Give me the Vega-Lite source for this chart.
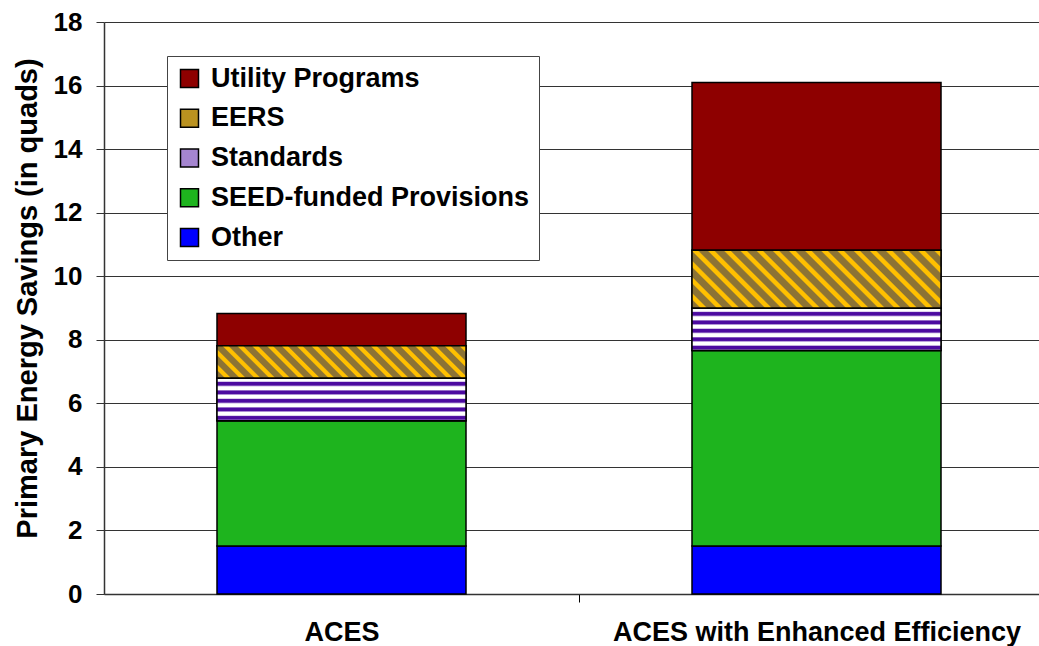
{
  "$schema": "https://vega.github.io/schema/vega-lite/v6.json",
  "width": 935,
  "height": 572,
  "autosize": {"type": "none"},
  "padding": {"left": 104, "top": 22, "right": 0, "bottom": 52},
  "background": "white",
  "config": {
    "font": "Liberation Sans",
    "view": {"stroke": null},
    "style": {"guide-label": {"fontWeight": "bold", "fill": "black"}},
    "legend": {"labelFontWeight": "bold"}
  },
  "data": {
    "values": [
      {"scenario": "ACES", "category": "Other", "value": 1.51, "ord": 1},
      {"scenario": "ACES", "category": "SEED-funded Provisions", "value": 3.94, "ord": 2},
      {"scenario": "ACES", "category": "Standards", "value": 1.34, "ord": 3},
      {"scenario": "ACES", "category": "EERS", "value": 1.02, "ord": 4},
      {"scenario": "ACES", "category": "Utility Programs", "value": 1.02, "ord": 5},
      {"scenario": "ACES with Enhanced Efficiency", "category": "Other", "value": 1.51, "ord": 1},
      {"scenario": "ACES with Enhanced Efficiency", "category": "SEED-funded Provisions", "value": 6.15, "ord": 2},
      {"scenario": "ACES with Enhanced Efficiency", "category": "Standards", "value": 1.33, "ord": 3},
      {"scenario": "ACES with Enhanced Efficiency", "category": "EERS", "value": 1.83, "ord": 4},
      {"scenario": "ACES with Enhanced Efficiency", "category": "Utility Programs", "value": 5.28, "ord": 5}
    ]
  },
  "transform": [
    {"stack": "value", "groupby": ["scenario"], "sort": [{"field": "ord", "order": "ascending"}], "as": ["v0", "v1"]}
  ],
  "encoding": {
    "x": {
      "field": "scenario",
      "type": "nominal",
      "sort": ["ACES", "ACES with Enhanced Efficiency"],
      "scale": {"paddingInner": 0.0632, "paddingOuter": 0.0158, "align": 1, "round": false},
      "axis": {
        "title": null,
        "labelAngle": 0,
        "labelFontSize": 27,
        "labelFontWeight": "bold",
        "labelColor": "black",
        "labelBaseline": "alphabetic",
        "labelPadding": 38,
        "labelLimit": 0,
        "tickOffset": 237.5,
        "labelOffset": -237.5,
        "tickSize": 8,
        "tickColor": "black",
        "domainColor": "#333333",
        "domainWidth": 1.5,
        "grid": false
      }
    },
    "y": {
      "field": "v1",
      "type": "quantitative",
      "scale": {"domain": [0, 18], "nice": false},
      "axis": {
        "values": [0, 2, 4, 6, 8, 10, 12, 14, 16, 18],
        "title": "Primary Energy Savings (in quads)",
        "titleFontSize": 29,
        "titleFontWeight": "bold",
        "titleColor": "black",
        "titleX": -77,
        "titleY": 276,
        "titleAngle": -90,
        "titleAlign": "center",
        "titleBaseline": "middle",
        "labelFontSize": 26,
        "labelFontWeight": "bold",
        "labelColor": "black",
        "labelPadding": 14,
        "labelBaseline": "middle",
        "tickSize": 8,
        "tickColor": "#333333",
        "domainColor": "#333333",
        "domainWidth": 1.5,
        "grid": true,
        "gridColor": "#333333",
        "gridWidth": 1
      }
    },
    "y2": {"field": "v0"}
  },
  "layer": [
    {
      "mark": {"type": "bar", "size": 249, "stroke": "black", "strokeWidth": 1.5, "opacity": 1},
      "encoding": {
        "color": {
          "field": "category",
          "type": "nominal",
          "scale": {
            "domain": ["Utility Programs", "EERS", "Standards", "SEED-funded Provisions", "Other"],
            "range": ["#8e0000", "#ba9220", "#a585d0", "#1eb41e", "#0000ff"]
          },
          "legend": {
            "title": null,
            "orient": "none",
            "legendX": 63,
            "legendY": 34,
            "direction": "vertical",
            "fillColor": "white",
            "strokeColor": "#444444",
            "padding": 9,
            "rowPadding": 11.75,
            "labelFontSize": 27,
            "labelFontWeight": 700,
            "labelFont": "Liberation Sans",
            "labelColor": "black",
            "labelLimit": 0,
            "labelOffset": 8,
            "symbolType": "square",
            "symbolSize": 324,
            "symbolStrokeColor": "black",
            "symbolStrokeWidth": 1.5,
            "symbolOpacity": 1
          }
        }
      }
    },
    {
      "transform": [{"filter": "datum.category === 'EERS' && datum.scenario === 'ACES'"}],
      "mark": {"type": "bar", "size": 249, "stroke": "black", "strokeWidth": 1.5,
        "fill": {"gradient": "linear", "x1": 0, "y1": 1, "x2": 1.1113, "y2": 0.8554, "stops": [
          {"offset": 0, "color": "#8c7335"}, {"offset": 0.0263, "color": "#8c7335"}, {"offset": 0.0316, "color": "#ffc000"}, {"offset": 0.0474, "color": "#ffc000"},
          {"offset": 0.0526, "color": "#8c7335"}, {"offset": 0.0789, "color": "#8c7335"}, {"offset": 0.0842, "color": "#ffc000"}, {"offset": 0.1, "color": "#ffc000"},
          {"offset": 0.1053, "color": "#8c7335"}, {"offset": 0.1316, "color": "#8c7335"}, {"offset": 0.1368, "color": "#ffc000"}, {"offset": 0.1526, "color": "#ffc000"},
          {"offset": 0.1579, "color": "#8c7335"}, {"offset": 0.1842, "color": "#8c7335"}, {"offset": 0.1895, "color": "#ffc000"}, {"offset": 0.2053, "color": "#ffc000"},
          {"offset": 0.2105, "color": "#8c7335"}, {"offset": 0.2368, "color": "#8c7335"}, {"offset": 0.2421, "color": "#ffc000"}, {"offset": 0.2579, "color": "#ffc000"},
          {"offset": 0.2632, "color": "#8c7335"}, {"offset": 0.2895, "color": "#8c7335"}, {"offset": 0.2947, "color": "#ffc000"}, {"offset": 0.3105, "color": "#ffc000"},
          {"offset": 0.3158, "color": "#8c7335"}, {"offset": 0.3421, "color": "#8c7335"}, {"offset": 0.3474, "color": "#ffc000"}, {"offset": 0.3632, "color": "#ffc000"},
          {"offset": 0.3684, "color": "#8c7335"}, {"offset": 0.3947, "color": "#8c7335"}, {"offset": 0.4, "color": "#ffc000"}, {"offset": 0.4158, "color": "#ffc000"},
          {"offset": 0.4211, "color": "#8c7335"}, {"offset": 0.4474, "color": "#8c7335"}, {"offset": 0.4526, "color": "#ffc000"}, {"offset": 0.4684, "color": "#ffc000"},
          {"offset": 0.4737, "color": "#8c7335"}, {"offset": 0.5, "color": "#8c7335"}, {"offset": 0.5053, "color": "#ffc000"}, {"offset": 0.5211, "color": "#ffc000"},
          {"offset": 0.5263, "color": "#8c7335"}, {"offset": 0.5526, "color": "#8c7335"}, {"offset": 0.5579, "color": "#ffc000"}, {"offset": 0.5737, "color": "#ffc000"},
          {"offset": 0.5789, "color": "#8c7335"}, {"offset": 0.6053, "color": "#8c7335"}, {"offset": 0.6105, "color": "#ffc000"}, {"offset": 0.6263, "color": "#ffc000"},
          {"offset": 0.6316, "color": "#8c7335"}, {"offset": 0.6579, "color": "#8c7335"}, {"offset": 0.6632, "color": "#ffc000"}, {"offset": 0.6789, "color": "#ffc000"},
          {"offset": 0.6842, "color": "#8c7335"}, {"offset": 0.7105, "color": "#8c7335"}, {"offset": 0.7158, "color": "#ffc000"}, {"offset": 0.7316, "color": "#ffc000"},
          {"offset": 0.7368, "color": "#8c7335"}, {"offset": 0.7632, "color": "#8c7335"}, {"offset": 0.7684, "color": "#ffc000"}, {"offset": 0.7842, "color": "#ffc000"},
          {"offset": 0.7895, "color": "#8c7335"}, {"offset": 0.8158, "color": "#8c7335"}, {"offset": 0.8211, "color": "#ffc000"}, {"offset": 0.8368, "color": "#ffc000"},
          {"offset": 0.8421, "color": "#8c7335"}, {"offset": 0.8684, "color": "#8c7335"}, {"offset": 0.8737, "color": "#ffc000"}, {"offset": 0.8895, "color": "#ffc000"},
          {"offset": 0.8947, "color": "#8c7335"}, {"offset": 0.9211, "color": "#8c7335"}, {"offset": 0.9263, "color": "#ffc000"}, {"offset": 0.9421, "color": "#ffc000"},
          {"offset": 0.9474, "color": "#8c7335"}, {"offset": 0.9737, "color": "#8c7335"}, {"offset": 0.9789, "color": "#ffc000"}, {"offset": 0.9947, "color": "#ffc000"},
          {"offset": 1, "color": "#8c7335"}]}
      }
    },
    {
      "transform": [{"filter": "datum.category === 'EERS' && datum.scenario === 'ACES with Enhanced Efficiency'"}],
      "mark": {"type": "bar", "size": 249, "stroke": "black", "strokeWidth": 1.5,
        "fill": {"gradient": "linear", "x1": 0, "y1": 1, "x2": 1.1698, "y2": 0.7266, "stops": [
          {"offset": 0, "color": "#8c7335"}, {"offset": 0.0263, "color": "#8c7335"}, {"offset": 0.0316, "color": "#ffc000"}, {"offset": 0.0474, "color": "#ffc000"},
          {"offset": 0.0526, "color": "#8c7335"}, {"offset": 0.0789, "color": "#8c7335"}, {"offset": 0.0842, "color": "#ffc000"}, {"offset": 0.1, "color": "#ffc000"},
          {"offset": 0.1053, "color": "#8c7335"}, {"offset": 0.1316, "color": "#8c7335"}, {"offset": 0.1368, "color": "#ffc000"}, {"offset": 0.1526, "color": "#ffc000"},
          {"offset": 0.1579, "color": "#8c7335"}, {"offset": 0.1842, "color": "#8c7335"}, {"offset": 0.1895, "color": "#ffc000"}, {"offset": 0.2053, "color": "#ffc000"},
          {"offset": 0.2105, "color": "#8c7335"}, {"offset": 0.2368, "color": "#8c7335"}, {"offset": 0.2421, "color": "#ffc000"}, {"offset": 0.2579, "color": "#ffc000"},
          {"offset": 0.2632, "color": "#8c7335"}, {"offset": 0.2895, "color": "#8c7335"}, {"offset": 0.2947, "color": "#ffc000"}, {"offset": 0.3105, "color": "#ffc000"},
          {"offset": 0.3158, "color": "#8c7335"}, {"offset": 0.3421, "color": "#8c7335"}, {"offset": 0.3474, "color": "#ffc000"}, {"offset": 0.3632, "color": "#ffc000"},
          {"offset": 0.3684, "color": "#8c7335"}, {"offset": 0.3947, "color": "#8c7335"}, {"offset": 0.4, "color": "#ffc000"}, {"offset": 0.4158, "color": "#ffc000"},
          {"offset": 0.4211, "color": "#8c7335"}, {"offset": 0.4474, "color": "#8c7335"}, {"offset": 0.4526, "color": "#ffc000"}, {"offset": 0.4684, "color": "#ffc000"},
          {"offset": 0.4737, "color": "#8c7335"}, {"offset": 0.5, "color": "#8c7335"}, {"offset": 0.5053, "color": "#ffc000"}, {"offset": 0.5211, "color": "#ffc000"},
          {"offset": 0.5263, "color": "#8c7335"}, {"offset": 0.5526, "color": "#8c7335"}, {"offset": 0.5579, "color": "#ffc000"}, {"offset": 0.5737, "color": "#ffc000"},
          {"offset": 0.5789, "color": "#8c7335"}, {"offset": 0.6053, "color": "#8c7335"}, {"offset": 0.6105, "color": "#ffc000"}, {"offset": 0.6263, "color": "#ffc000"},
          {"offset": 0.6316, "color": "#8c7335"}, {"offset": 0.6579, "color": "#8c7335"}, {"offset": 0.6632, "color": "#ffc000"}, {"offset": 0.6789, "color": "#ffc000"},
          {"offset": 0.6842, "color": "#8c7335"}, {"offset": 0.7105, "color": "#8c7335"}, {"offset": 0.7158, "color": "#ffc000"}, {"offset": 0.7316, "color": "#ffc000"},
          {"offset": 0.7368, "color": "#8c7335"}, {"offset": 0.7632, "color": "#8c7335"}, {"offset": 0.7684, "color": "#ffc000"}, {"offset": 0.7842, "color": "#ffc000"},
          {"offset": 0.7895, "color": "#8c7335"}, {"offset": 0.8158, "color": "#8c7335"}, {"offset": 0.8211, "color": "#ffc000"}, {"offset": 0.8368, "color": "#ffc000"},
          {"offset": 0.8421, "color": "#8c7335"}, {"offset": 0.8684, "color": "#8c7335"}, {"offset": 0.8737, "color": "#ffc000"}, {"offset": 0.8895, "color": "#ffc000"},
          {"offset": 0.8947, "color": "#8c7335"}, {"offset": 0.9211, "color": "#8c7335"}, {"offset": 0.9263, "color": "#ffc000"}, {"offset": 0.9421, "color": "#ffc000"},
          {"offset": 0.9474, "color": "#8c7335"}, {"offset": 0.9737, "color": "#8c7335"}, {"offset": 0.9789, "color": "#ffc000"}, {"offset": 0.9947, "color": "#ffc000"},
          {"offset": 1, "color": "#8c7335"}]}
      }
    },
    {
      "transform": [{"filter": "datum.category === 'Standards'"}],
      "mark": {"type": "bar", "size": 249, "stroke": "black", "strokeWidth": 1.5,
        "fill": {"gradient": "linear", "x1": 0, "y1": 0, "x2": 0, "y2": 1, "stops": [
          {"offset": 0, "color": "#ffffff"}, {"offset": 0.07, "color": "#ffffff"}, {"offset": 0.1, "color": "#4c0aa0"}, {"offset": 0.16, "color": "#4c0aa0"},
          {"offset": 0.2, "color": "#ffffff"}, {"offset": 0.27, "color": "#ffffff"}, {"offset": 0.3, "color": "#4c0aa0"}, {"offset": 0.36, "color": "#4c0aa0"},
          {"offset": 0.4, "color": "#ffffff"}, {"offset": 0.47, "color": "#ffffff"}, {"offset": 0.5, "color": "#4c0aa0"}, {"offset": 0.56, "color": "#4c0aa0"},
          {"offset": 0.6, "color": "#ffffff"}, {"offset": 0.67, "color": "#ffffff"}, {"offset": 0.7, "color": "#4c0aa0"}, {"offset": 0.76, "color": "#4c0aa0"},
          {"offset": 0.8, "color": "#ffffff"}, {"offset": 0.87, "color": "#ffffff"}, {"offset": 0.9, "color": "#4c0aa0"}, {"offset": 0.96, "color": "#4c0aa0"},
          {"offset": 1, "color": "#ffffff"}]}
      }
    }
  ]
}
